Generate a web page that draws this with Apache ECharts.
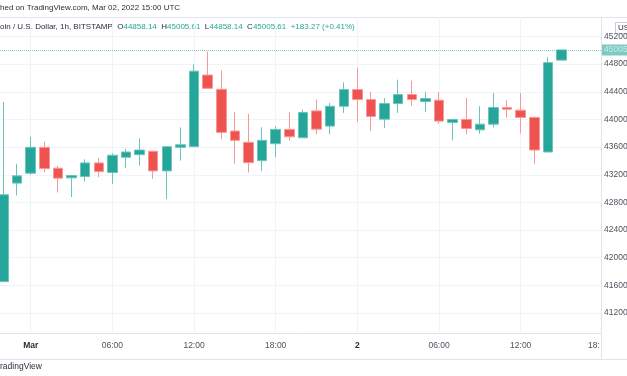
<!DOCTYPE html>
<html>
<head>
<meta charset="utf-8">
<script src="https://cdn.jsdelivr.net/npm/echarts@6/dist/echarts.min.js"></script>
<style>
  html, body { margin: 0; padding: 0; background: #fff; }
  #chart { width: 627px; height: 376px; }
</style>
</head>
<body>
<div id="chart"></div>
<script>
// hours from Mar 1 00:00 UTC (1h candles, BITSTAMP)
const hours = [-2, -1, 0, 1, 2, 3, 4, 5, 6, 7, 8, 9, 10, 11, 12, 13, 14, 15, 16, 17, 18,
  19, 20, 21, 22, 23, 24, 25, 26, 27, 28, 29, 30, 31, 32, 33, 34, 35, 36, 37, 38, 39]
const opens = [41654, 43079, 43223, 43597, 43295, 43155, 43174, 43371, 43232, 43453, 43491,
  43540, 43256, 43597, 43606, 44642, 44436, 43832, 43669, 43404, 43649, 43856, 43735, 44124,
  43904, 44191, 44432, 44288, 44004, 44230, 44360, 44259, 44278, 43957, 44000, 43850, 43932,
  44173, 44134, 44029, 43529, 44858.14]
const closes = [42911, 43184, 43597, 43289, 43151, 43188, 43371, 43246, 43482, 43529, 43558,
  43256, 43606, 43634, 44699, 44450, 43813, 43698, 43375, 43698, 43856, 43750, 44101, 43860,
  44191, 44432, 44288, 44043, 44230, 44360, 44288, 44302, 43976, 44000, 43870, 43932, 44173,
  44148, 44029, 43558, 44822, 45005.61]
const lows = [41654, 42901, 43198, 43237, 42944, 42878, 43102, 43165, 43065, 43295, 43332,
  43141, 42849, 43404, 43606, 44440, 43717, 43361, 43232, 43252, 43453, 43692, 43735, 43784,
  43788, 44095, 43965, 43836, 43879, 44095, 44196, 44109, 43937, 43698, 43784, 43793, 43885,
  44023, 43799, 43357, 43529, 44858.14]
const highs = [44253, 43357, 43750, 43678, 43328, 43198, 43424, 43443, 43511, 43577, 43727,
  43540, 43616, 43885, 44796, 44983, 44709, 44105, 44081, 43885, 43904, 44105, 44144, 44288,
  44239, 44537, 44748, 44397, 44311, 44576, 44561, 44397, 44397, 44000, 44311, 44191, 44383,
  44278, 44383, 44047, 44901, 45005.61]

const timeTicks = [0, 6, 12, 18, 24, 30, 36]
const timeLabels = ['Mar', '06:00', '12:00', '18:00', '2', '06:00', '12:00']
const priceTicks = [41200, 41600, 42000, 42400, 42800, 43200, 43600, 44000, 44400, 44800, 45200]
const lastPrice = 45005.61

const up = '#26a69a'
const down = '#ef5350'
const font = 'Liberation Sans'

const chart = echarts.init(document.getElementById('chart'))

const candles = hours.map((h, i) => [h, opens[i], closes[i], lows[i], highs[i]])

chart.setOption({
  animation: false,
  backgroundColor: '#fff',
  textStyle: { fontFamily: font },
  grid: {
    left: 0,
    right: 26,
    top: 17,
    bottom: 43,
    containLabel: false,
    outerBoundsMode: 'none'
  },
  xAxis: {
    type: 'value',
    min: -2.257,
    max: 41.9,
    axisLine: { show: true, onZero: false, lineStyle: { color: '#e0e3eb' } },
    axisTick: { show: false, customValues: timeTicks },
    splitLine: { show: true, lineStyle: { color: '#f0f3fa', width: 1 } },
    axisLabel: {
      customValues: timeTicks,
      margin: 8,
      fontSize: 8.5,
      color: '#50535e',
      formatter(v) {
        const lab = timeLabels[timeTicks.indexOf(v)]
        return (lab === 'Mar' || lab === '2') ? '{b|' + lab + '}' : lab
      },
      rich: {
        b: { fontWeight: 'bold', fontSize: 8.5, color: '#2a2e39' }
      }
    }
  },
  yAxis: {
    type: 'value',
    position: 'right',
    min: 40911,
    max: 45482,
    axisLine: { show: true, onZero: false, lineStyle: { color: '#e0e3eb' } },
    axisTick: { show: false, customValues: priceTicks },
    splitLine: { show: true, lineStyle: { color: '#f0f3fa', width: 1 } },
    axisLabel: {
      customValues: priceTicks,
      margin: 3,
      fontSize: 8.5,
      color: '#50535e',
      formatter: v => String(v)
    }
  },
  series: [{
    type: 'candlestick',
    data: candles,
    barWidth: 10,
    clip: false,
    itemStyle: {
      color: up,
      color0: down,
      borderColor: '#6cc4ba',
      borderColor0: '#f59896',
      borderWidth: 1
    },
    markLine: {
      silent: true,
      symbol: ['none', 'none'],
      lineStyle: { color: up, type: 'dotted', width: 1, opacity: 0.6 },
      label: {
        position: 'end',
        distance: 1,
        formatter: () => lastPrice.toFixed(2),
        backgroundColor: up,
        color: '#fff',
        fontSize: 8.5,
        padding: [1, 2, 1, 2]
      },
      data: [{ yAxis: lastPrice }]
    }
  }],
  graphic: [
    { type: 'line', shape: { x1: 0, y1: 17.5, x2: 627, y2: 17.5 }, style: { stroke: '#e0e3eb' }, silent: true },
    { type: 'line', shape: { x1: 0, y1: 359.5, x2: 627, y2: 359.5 }, style: { stroke: '#e0e3eb' }, silent: true },
    { type: 'line', shape: { x1: 601.5, y1: 333, x2: 601.5, y2: 359 }, style: { stroke: '#e0e3eb' }, silent: true },
    {
      type: 'text', left: 0, top: 4,
      style: { text: 'hed on TradingView.com, Mar 02, 2022 15:00 UTC', font: '8px ' + font, fill: '#2a2e39' }
    },
    {
      type: 'text', left: 0, top: 23,
      style: {
        text: 'oin / U.S. Dollar, 1h, BITSTAMP  O{v|44858.14}  H{v|45005.61}  L{v|44858.14}  C{v|45005.61}  {v|+183.27 (+0.41%)}',
        font: '8px ' + font,
        fill: '#2a2e39',
        rich: { v: { fill: up, font: '8px ' + font } }
      }
    },
    {
      type: 'text', left: 615, top: 22,
      style: {
        text: 'USD', font: '8px ' + font, fill: '#2a2e39',
        backgroundColor: '#fff', borderColor: '#c9ccd4', borderWidth: 1, padding: [1, 2]
      }
    },
    {
      type: 'text', left: 588, top: 341,
      style: { text: '18:', font: '8.5px ' + font, fill: '#50535e' }
    },
    {
      type: 'text', left: 0, top: 362,
      style: { text: 'radingView', font: '8.5px ' + font, fill: '#2a2e39' }
    }
  ]
})
</script>
</body>
</html>
